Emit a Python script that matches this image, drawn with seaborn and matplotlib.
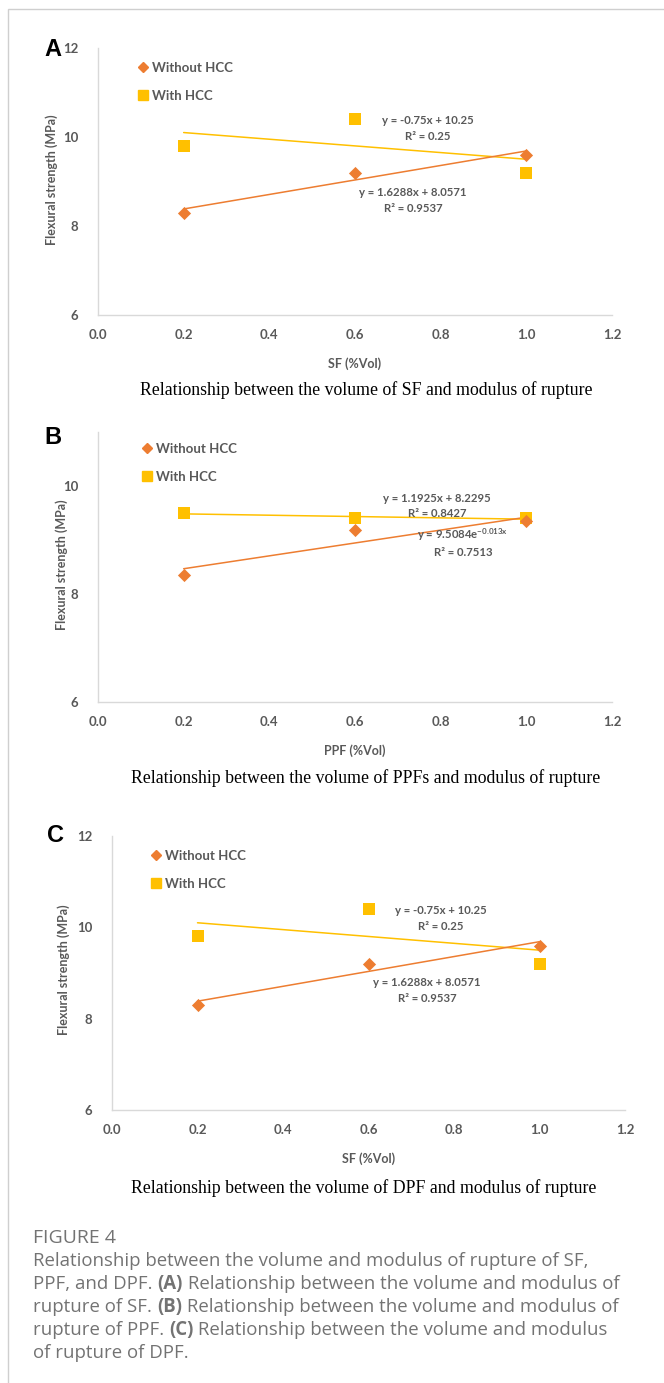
import numpy as np
import pandas as pd
import matplotlib
matplotlib.use("Agg")
import matplotlib.pyplot as plt
from matplotlib.lines import Line2D
from matplotlib.patches import Rectangle
import seaborn as sns

# ---------------- data ----------------
x_vol = [0.2, 0.6, 1.0]

sf_without = [8.3, 9.2, 9.6]
sf_with = [9.8, 10.4, 9.2]
ppf_without = [8.35, 9.18, 9.35]
ppf_with = [9.5, 9.4, 9.4]
dpf_without = [8.3, 9.2, 9.6]
dpf_with = [9.8, 10.4, 9.2]

# trend-line coefficients (as printed on the chart)
sf_fit_without = (1.6288, 8.0571)      # linear
sf_fit_with = (-0.75, 10.25)           # linear
ppf_fit_without = (1.1925, 8.2295)     # linear
ppf_fit_with = (9.5084, -0.013)        # exponential a*exp(b*x)
dpf_fit_without = (1.6288, 8.0571)
dpf_fit_with = (-0.75, 10.25)

series_labels = ["Without HCC", "With HCC"]
x_ticks = [0.0, 0.2, 0.4, 0.6, 0.8, 1.0, 1.2]
y_ticks_ac = [6, 8, 10, 12]
y_ticks_b = [6, 8, 10]
x_labels = ["SF (%Vol)", "PPF (%Vol)", "SF (%Vol)"]
y_label = "Flexural strength (MPa)"
panel_captions = [
    "Relationship between the volume of SF and modulus of rupture",
    "Relationship between the volume of PPFs and modulus of rupture",
    "Relationship between the volume of DPF and modulus of rupture",
]
fig_title = "FIGURE 4"
fig_caption = [
    [("Relationship between the volume and modulus of rupture of SF,", False)],
    [("PPF, and DPF. ", False), ("(A)", True), (" Relationship between the volume and modulus of", False)],
    [("rupture of SF. ", False), ("(B)", True), (" Relationship between the volume and modulus of", False)],
    [("rupture of PPF. ", False), ("(C)", True), (" Relationship between the volume and modulus", False)],
    [("of rupture of DPF.", False)],
]

# ---------------- style ----------------
sns.set_theme(style="white")
plt.rcParams["font.family"] = ["Lato", "DejaVu Sans"]

W, H = 664, 1383
fig = plt.figure(figsize=(W / 100, H / 100), dpi=100)

ORANGE = "#ED7D31"
YELLOW = "#FFC000"
GRAY = "#595959"
SPINE = "#D9D9D9"


def fx(px):
    return px / W


def fy(py):
    return 1 - py / H


def add_axes_px(left, top, right, bottom):
    return fig.add_axes([fx(left), fy(bottom), (right - left) / W, (bottom - top) / H])


def ftext(x, y, s, **kw):
    return fig.text(fx(x), fy(y), s, **kw)


# outer frame
fig.patches.append(Rectangle((fx(8), fy(1400)), 1.2, fy(9) - fy(1400), transform=fig.transFigure,
                             fill=False, edgecolor="#CFCFCF", linewidth=1.0))


def draw_panel(ax, without, with_, fit_wo, fit_w, exp_with, ylim, yticks, xlabel,
               eq_w, eq_wo, legend_xy):
    df = pd.DataFrame({"x": x_vol * 2,
                       "y": list(without) + list(with_),
                       "series": [series_labels[0]] * 3 + [series_labels[1]] * 3})
    xs = np.linspace(0.2, 1.0, 20)
    tw = pd.DataFrame({"x": xs, "y": fit_wo[0] * xs + fit_wo[1]})
    if exp_with:
        tv = pd.DataFrame({"x": xs, "y": fit_w[0] * np.exp(fit_w[1] * xs)})
    else:
        tv = pd.DataFrame({"x": xs, "y": fit_w[0] * xs + fit_w[1]})
    sns.lineplot(data=tv, x="x", y="y", ax=ax, color=YELLOW, linewidth=1.1, zorder=2)
    sns.lineplot(data=tw, x="x", y="y", ax=ax, color=ORANGE, linewidth=1.1, zorder=2)
    sns.scatterplot(data=df[df.series == series_labels[1]], x="x", y="y", ax=ax, marker="s",
                    color=YELLOW, s=70, linewidth=0, zorder=3)
    sns.scatterplot(data=df[df.series == series_labels[0]], x="x", y="y", ax=ax, marker="D",
                    color=ORANGE, s=45, linewidth=0, zorder=4)
    ax.set_xlim(0, 1.2)
    ax.set_ylim(*ylim)
    ax.set_xticks(x_ticks)
    ax.set_xticklabels([f"{v:.1f}" for v in x_ticks])
    ax.set_yticks(yticks)
    ax.set_yticklabels([str(v) for v in yticks])
    ax.tick_params(axis="both", length=0, labelsize=9.5, labelcolor=GRAY)
    ax.tick_params(axis="x", pad=10)
    ax.tick_params(axis="y", pad=14)
    for lab in ax.get_xticklabels() + ax.get_yticklabels():
        lab.set_fontweight("bold")
    ax.set_xlabel(xlabel, fontsize=9, fontweight="bold", color=GRAY, labelpad=12)
    ax.set_ylabel("")
    for s in ["top", "right"]:
        ax.spines[s].set_visible(False)
    for s in ["left", "bottom"]:
        ax.spines[s].set_color(SPINE)
        ax.spines[s].set_linewidth(1.0)
    ax.set_facecolor("none")
    handles = [Line2D([], [], marker="D", color=ORANGE, linestyle="none", markersize=5),
               Line2D([], [], marker="s", color=YELLOW, linestyle="none", markersize=7)]
    leg = ax.legend(handles, series_labels, loc="upper left",
                    bbox_to_anchor=(fx(legend_xy[0]), fy(legend_xy[1])),
                    bbox_transform=fig.transFigure, frameon=False, borderpad=0,
                    labelspacing=1.25, handlelength=0.7, handletextpad=0.3,
                    prop={"size": 9.5, "weight": "bold"})
    for t in leg.get_texts():
        t.set_color(GRAY)
    for (tx, ty, s) in eq_w + eq_wo:
        ftext(tx, ty, s, ha="center", va="center", fontsize=8.2, fontweight="bold", color=GRAY)


# Panel A
axA = add_axes_px(98, 48, 612, 315)
draw_panel(axA, sf_without, sf_with, sf_fit_without, sf_fit_with, False, (6, 12), y_ticks_ac,
           x_labels[0],
           [(428, 121, "y = -0.75x + 10.25"), (428, 137, "R² = 0.25")],
           [(413, 192, "y = 1.6288x + 8.0571"), (413, 208, "R² = 0.9537")],
           (132, 55))
# Panel B
axB = add_axes_px(98, 432, 612, 702)
draw_panel(axB, ppf_without, ppf_with, ppf_fit_without, ppf_fit_with, True, (6, 11), y_ticks_b,
           x_labels[1],
           [(437, 498, "y = 1.1925x + 8.2295"), (437, 513, "R² = 0.8427")],
           [(463, 535, "y = 9.5084e$^{\\mathregular{-0.013x}}$"), (463, 552, "R² = 0.7513")],
           (136, 436))
# Panel C
axC = add_axes_px(112, 836, 625, 1110)
draw_panel(axC, dpf_without, dpf_with, dpf_fit_without, dpf_fit_with, False, (6, 12), y_ticks_ac,
           x_labels[2],
           [(441, 911, "y = -0.75x + 10.25"), (441, 927, "R² = 0.25")],
           [(427, 983, "y = 1.6288x + 8.0571"), (427, 999, "R² = 0.9537")],
           (145, 843))

# y labels
for (yx, yy) in [(52, 180), (62, 565), (64, 970)]:
    ftext(yx, yy, y_label, rotation=90, ha="center", va="center", fontsize=9,
          fontweight="bold", color=GRAY)

# panel letters
for (lx, ly, s) in [(53, 50, "A"), (53, 437, "B"), (55, 836, "C")]:
    ftext(lx, ly, s, ha="center", va="center", fontsize=17, fontweight="bold", color="black",
          family=["Liberation Sans", "DejaVu Sans"])

# panel captions
for (cx, cy, s) in [(366, 390, panel_captions[0]), (366, 778, panel_captions[1]),
                    (364, 1188, panel_captions[2])]:
    ftext(cx, cy, s, ha="center", va="center", fontsize=12.8, color="black",
          family=["Liberation Serif", "DejaVu Serif"])

# figure caption
CAP = "#737373"
ftext(33, 1238, fig_title, ha="left", va="center", fontsize=14, color=CAP,
      family=["Open Sans", "DejaVu Sans"])
fig.canvas.draw()
renderer = fig.canvas.get_renderer()
line_y = [1261, 1284, 1307, 1330, 1353]
for ly, runs in zip(line_y, fig_caption):
    x = 33
    for s, bold in runs:
        t = ftext(x, ly, s, ha="left", va="center", fontsize=13.4, color=CAP,
                  fontweight="bold" if bold else "normal",
                  family=["Open Sans", "DejaVu Sans"])
        bb = t.get_window_extent(renderer=renderer)
        x += bb.width

fig.savefig("out.png", dpi=100)
